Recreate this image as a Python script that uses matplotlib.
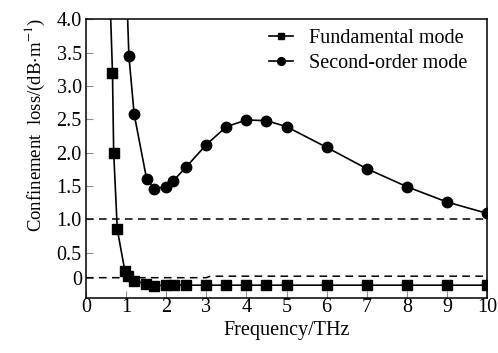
import numpy as np
import matplotlib
matplotlib.use('Agg')
import matplotlib.pyplot as plt

plt.rcParams['font.family'] = ['Liberation Serif', 'DejaVu Serif']
plt.rcParams['mathtext.fontset'] = 'stix'

# fundamental mode loss vs frequency
fund_f = [0.60, 0.66, 0.69, 0.78, 0.97, 1.05, 1.20, 1.50, 1.70, 2.0, 2.2, 2.5, 3.0, 3.5, 4.0, 4.5, 5.0, 6.0, 7.0, 8.0, 9.0, 10.0]
fund_loss = [4.3, 3.2, 2.0, 0.85, 0.13, 0.03, -0.06, -0.13, -0.16, -0.15, -0.15, -0.15, -0.15, -0.15, -0.15, -0.15, -0.15, -0.15, -0.15, -0.15, -0.15, -0.15]

# second-order mode loss vs frequency
sec_f = [1.02, 1.07, 1.20, 1.51, 1.70, 1.99, 2.18, 2.49, 3.0, 3.5, 4.0, 4.5, 5.0, 6.0, 7.0, 8.0, 9.0, 10.0]
sec_loss = [4.3, 3.45, 2.58, 1.61, 1.46, 1.49, 1.58, 1.78, 2.12, 2.39, 2.49, 2.48, 2.39, 2.08, 1.76, 1.49, 1.26, 1.09]

# reference dashed levels
ref1_f = [0, 10]
ref1_loss = [1.0, 1.0]
ref0_f = [0, 3.0, 3.1, 10]
ref0_loss = [0.0, 0.0, 0.03, 0.03]

yticks = [0, 0.5, 1.0, 1.5, 2.0, 2.5, 3.0, 3.5, 4.0]
ytick_labels = ['0', '0.5', '1.0', '1.5', '2.0', '2.5', '3.0', '3.5', '4.0']
xticks = list(range(0, 11))

# the axis is squeezed below 0.5
r = 0.75
def fwd(y):
    y = np.asarray(y, dtype=float)
    return np.where(y < 0.5, y * r, y - 0.5 + 0.5 * r)

def inv(u):
    u = np.asarray(u, dtype=float)
    return np.where(u < 0.5 * r, u / r, u + 0.5 - 0.5 * r)

fig = plt.figure(figsize=(4.98, 3.53), dpi=100)
ax = fig.add_axes([0.1727, 0.1567, 0.8053, 0.7886])
ax.set_yscale('function', functions=(fwd, inv))

ax.plot(ref1_f, ref1_loss, color='black', lw=1.1, ls=(0, (5, 3.5)))
ax.plot(ref0_f, ref0_loss, color='black', lw=1.1, ls=(0, (5, 3.5)))

ax.plot(fund_f, fund_loss, color='black', lw=1.2, marker='s', ms=6.5,
        label='Fundamental mode')
ax.plot(sec_f, sec_loss, color='black', lw=1.2, marker='o', ms=7.5,
        label='Second-order mode')

ax.set_xlim(0, 10)
ax.set_ylim(-0.4, 4.0)
ax.set_xticks(xticks)
ax.set_yticks(yticks)
ax.set_yticklabels(ytick_labels)
ax.tick_params(direction='in', length=5, color='0.55', labelsize=14.5)
ax.tick_params(axis='x', pad=0)
ax.tick_params(axis='y', pad=3)
for s in ax.spines.values():
    s.set_linewidth(1.1)

ax.set_xlabel('Frequency/THz', fontsize=14.5, labelpad=3)
ax.set_ylabel('Confinement  loss/(dB$\\cdot$m$^{-1}$)', fontsize=13.5)
ax.yaxis.set_label_coords(-0.097, 0.62)

ax.legend(loc='upper left', bbox_to_anchor=(0.41, 1.03), frameon=False,
          fontsize=14.5, handlelength=1.2, handletextpad=0.8,
          labelspacing=0.3, markerscale=0.75)

fig.savefig('out.png', dpi=100)
